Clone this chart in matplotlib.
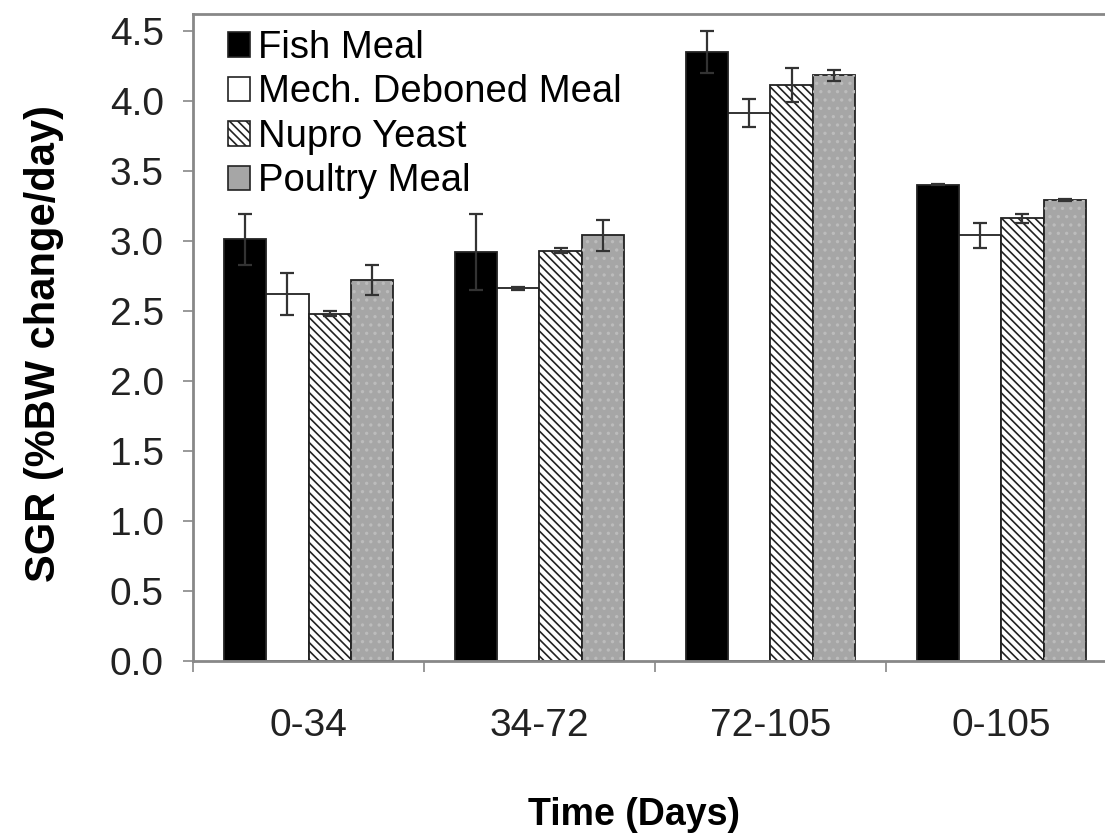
import matplotlib
matplotlib.use("Agg")
import matplotlib.pyplot as plt
import numpy as np
from matplotlib.patches import Patch

plt.rcParams["font.family"] = ["Liberation Sans", "DejaVu Sans"]
plt.rcParams["hatch.linewidth"] = 1.2

periods = ["0-34", "34-72", "72-105", "0-105"]
diets = ["Fish Meal", "Mech. Deboned Meal", "Nupro Yeast", "Poultry Meal"]
fish = [3.01, 2.92, 4.35, 3.40]
fish_err = [0.18, 0.27, 0.15, 0.005]
mech = [2.62, 2.66, 3.91, 3.04]
mech_err = [0.15, 0.01, 0.10, 0.09]
nupro = [2.48, 2.93, 4.11, 3.16]
nupro_err = [0.02, 0.02, 0.12, 0.03]
poultry = [2.72, 3.04, 4.18, 3.29]
poultry_err = [0.11, 0.11, 0.04, 0.005]

values = [fish, mech, nupro, poultry]
errors = [fish_err, mech_err, nupro_err, poultry_err]
faces = ["black", "white", "white", "#a6a6a6"]
hatches = [None, None, "\\\\\\\\", None]

fig = plt.figure(figsize=(11.05, 8.35), dpi=100)
ax = fig.add_axes([0.1747, 0.2084, 0.836, 0.775])

x = np.arange(len(periods)) + 0.5
width = 0.183
offsets = [-1.5, -0.5, 0.5, 1.5]
for vals, errs, fc, h, off, name in zip(values, errors, faces, hatches, offsets, diets):
    ax.bar(x + off * width, vals, width, color=fc, edgecolor="#222222",
           linewidth=1.3, hatch=h, label=name, zorder=2)
    ax.errorbar(x + off * width, vals, yerr=errs, fmt="none", ecolor="#333333",
                elinewidth=1.6, capsize=5, capthick=1.6, zorder=3)
# faint dot texture on the poultry bars
ax.bar(x + 1.5 * width, poultry, width, fill=False, edgecolor="#bcbcbc",
       linewidth=0, hatch="..", zorder=2.5)

ax.set_xlim(0, 4)
ax.set_ylim(0, 4.62)
yt = np.arange(0, 4.51, 0.5)
ax.set_yticks(yt)
ax.set_yticklabels([f"{v:.1f}" for v in yt])
ax.set_xticks([0, 1, 2, 3, 4])
ax.set_xticklabels([])
ax.set_xticks(x, minor=True)
ax.set_xticklabels(periods, minor=True)
ax.tick_params(axis="x", which="minor", length=0, pad=34, labelsize=28, colors="#222222")
ax.tick_params(axis="x", which="major", length=8, width=1.2, color="#888888")
ax.tick_params(axis="y", length=7, width=1.2, color="#888888", pad=14,
               labelsize=28, labelcolor="#222222")
for s in ax.spines.values():
    s.set_color("#888888")
    s.set_linewidth(2)

ax.set_ylabel("SGR (%BW change/day)", fontsize=30, fontweight="bold")
ax.yaxis.set_label_coords(-0.14, 0.49)
ax.set_xlabel("Time (Days)", fontsize=27, fontweight="bold")
ax.xaxis.set_label_coords(0.477, -0.21)

handles = [Patch(facecolor=fc, edgecolor="#222222", hatch=h, linewidth=1.2)
           for fc, h in zip(faces, hatches)]
ax.legend(handles, diets, loc="upper left", bbox_to_anchor=(0.038, 0.975), frameon=False,
          fontsize=27.5, handlelength=0.58, handleheight=0.6, handletextpad=0.2,
          labelspacing=0.22, borderaxespad=0, borderpad=0)

fig.savefig("out.png", dpi=100)
